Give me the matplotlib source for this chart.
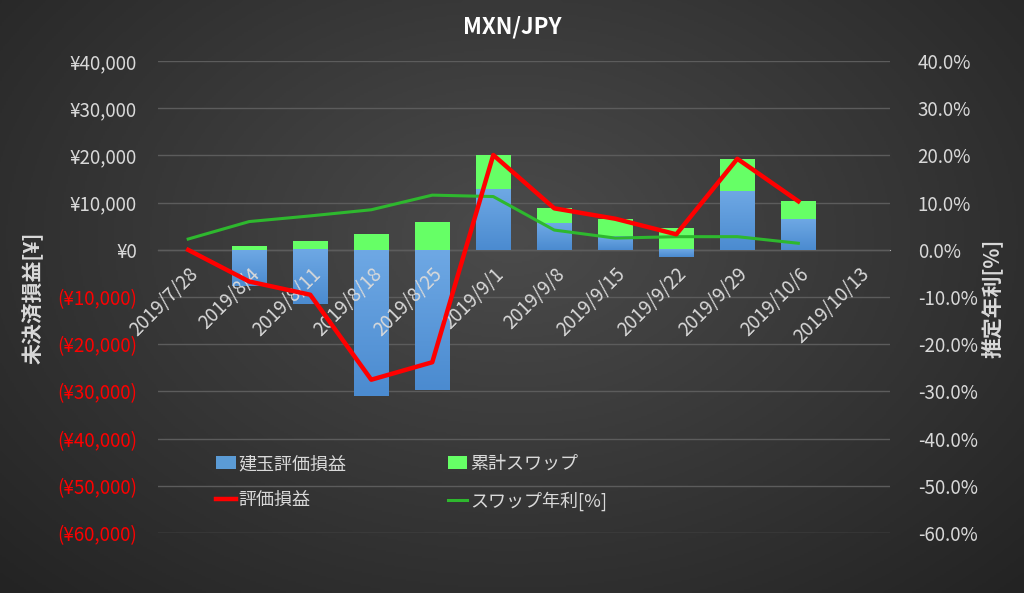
import numpy as np
import matplotlib.pyplot as plt
from matplotlib.colors import LinearSegmentedColormap

plt.rcParams['font.family'] = ['Noto Sans CJK JP', 'DejaVu Sans']

# weekly values
dates = ['2019/7/28', '2019/8/4', '2019/8/11', '2019/8/18', '2019/8/25', '2019/9/1',
         '2019/9/8', '2019/9/15', '2019/9/22', '2019/9/29', '2019/10/6', '2019/10/13']
position_pl = [0, -7550, -11480, -30870, -29600, 12830, 5640, 2820, -1550, 12330, 6550]
swap_total = [60, 850, 1970, 3300, 5850, 7190, 3160, 3730, 4580, 6840, 3810]
total_pl = [0, -6700, -9500, -27500, -23800, 20100, 8800, 6600, 3300, 19300, 10300]
swap_rate = [2.3, 6.0, 7.2, 8.5, 11.6, 11.3, 4.2, 2.5, 2.8, 2.8, 1.4]

yen_ticks = list(range(-60000, 40001, 10000))
pct_ticks = list(range(-60, 41, 10))

TXT = '#d9d9d9'

fig = plt.figure(figsize=(10.24, 5.93), dpi=100)

# radial background like the excel chart style
bg = fig.add_axes([0, 0, 1, 1], zorder=-10)
yy, xx = np.mgrid[0:1:300j, 0:1:512j]
r = np.sqrt(((xx - 0.5) / 0.75) ** 2 + ((yy - 0.4) / 0.9) ** 2)
bg.imshow(r, cmap=LinearSegmentedColormap.from_list('bg', ['#4b4b4b', '#232323']),
          aspect='auto', extent=[0, 1, 0, 1], vmin=0, vmax=r.max())
bg.axis('off')

ax = fig.add_axes([0.154, 0.101, 0.715, 0.796])
ax.patch.set_visible(False)
x = np.arange(len(dates))
n = len(position_pl)
xs = x[:n]

pos = np.array(position_pl, dtype=float)
swp = np.array(swap_total, dtype=float)
bottoms = np.where(pos > 0, pos, 0)

w = 0.57
b1 = ax.bar(xs, pos, w, color='#5b9bd5', zorder=2, label='建玉評価損益')
b2 = ax.bar(xs, swp, w, bottom=bottoms, color='#66ff66', zorder=2, label='累計スワップ')

# soft vertical gradient on the blue bars
grad = np.linspace(1, 0, 100).reshape(-1, 1)
cmap_blue = LinearSegmentedColormap.from_list('b', ['#4b8bd0', '#6ea8e4'])
for bar in b1:
    x0, y0 = bar.get_x(), bar.get_y()
    h = bar.get_height()
    if h == 0:
        continue
    ax.imshow(grad, cmap=cmap_blue, aspect='auto', zorder=2.1,
              extent=[x0, x0 + bar.get_width(), min(y0, y0 + h), max(y0, y0 + h)])

ax.set_xlim(-0.5, len(dates) - 0.5)
ax.set_ylim(-60000, 40000)
ax.set_yticks(yen_ticks)
ax.set_yticklabels(['¥{:,}'.format(v) if v >= 0 else '(¥{:,})'.format(-v) for v in yen_ticks])
ax.set_xticks(x)
ax.tick_params(axis='x', length=0, labelbottom=False)
ax.tick_params(axis='y', length=0, pad=15, labelsize=13.5)
ax.grid(axis='y', color='#5c5c5c', lw=1, zorder=0)
for s in ['top', 'left', 'right']:
    ax.spines[s].set_visible(False)
ax.spines['bottom'].set_position(('data', 0))
ax.spines['bottom'].set_color('#b0b0b0')
ax.spines['bottom'].set_zorder(1.5)

# right axis: swap rate
ax2 = ax.twinx()
ax2.set_ylim(-60, 40)
ax2.set_yticks(pct_ticks)
ax2.set_yticklabels(['{:.1f}%'.format(v) for v in pct_ticks])
ax2.tick_params(axis='y', length=0, pad=20, labelcolor=TXT, labelsize=13.5)
for s in ax2.spines.values():
    s.set_visible(False)
l2, = ax2.plot(xs, swap_rate, color='#2eb82e', lw=2.2, label='スワップ年利[%]')

# top layer: category labels over the bars, red line over the labels
ax3 = ax.twinx()
ax3.set_ylim(-60000, 40000)
ax3.yaxis.set_visible(False)
ax3.xaxis.set_visible(True)
for s in ax3.spines.values():
    s.set_visible(False)
ax3.spines['bottom'].set_position(('data', 0))
ax3.set_xticks(x)
ax3.set_xticklabels(dates)
ax3.tick_params(axis='x', length=0, pad=10, labelbottom=True, labelcolor=TXT, labelsize=13.5)
l1, = ax3.plot(xs, total_pl, color='#ff0000', lw=3.2, zorder=3, label='評価損益')

ax3.legend([b1, l1, b2, l2], ['建玉評価損益', '評価損益', '累計スワップ', 'スワップ年利[%]'],
           ncol=2, frameon=False, fontsize=13, labelcolor=TXT,
           loc='upper left', bbox_to_anchor=(0.195, 0.26), bbox_transform=fig.transFigure,
           handlelength=1.1, handletextpad=0.15, columnspacing=5.6, labelspacing=1.0)

# label styling last so nothing resets it
for t, v in zip(ax.get_yticklabels(), yen_ticks):
    t.set_color('#ff0000' if v < 0 else TXT)
plt.setp(ax3.get_xticklabels(), rotation=45, ha='right', rotation_mode='anchor')

fig.text(0.5, 1 - 27 / 593, 'MXN/JPY', ha='center', va='center', fontsize=16,
         weight='bold', color='white')
fig.text(33 / 1024, 1 - 298 / 593, '未決済損益[¥]', rotation=90, ha='center', va='center',
         fontsize=15, weight='bold', color=TXT)
fig.text(992 / 1024, 1 - 298 / 593, '推定年利[%]', rotation=90, ha='center', va='center',
         fontsize=15, weight='bold', color=TXT)

fig.savefig('out.png', dpi=100)
